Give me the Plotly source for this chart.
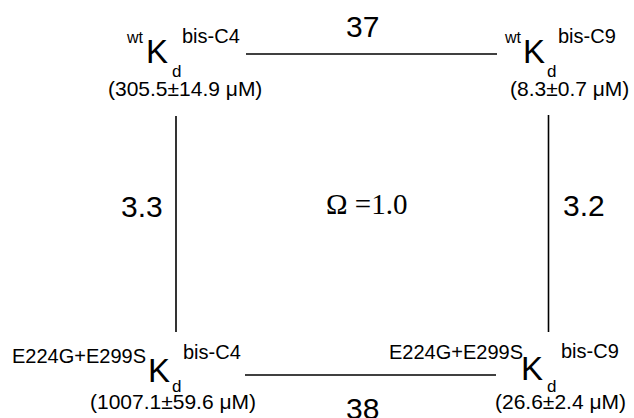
import plotly.graph_objects as go

# ---- data ----
prefixes = ["wt", "wt", "E224G+E299S", "E224G+E299S"]
ligands = ["bis-C4", "bis-C9", "bis-C4", "bis-C9"]
kd_values = ["305.5±14.9", "8.3±0.7", "1007.1±59.6", "26.6±2.4"]
kd_unit = "μM"
ratios = ["37", "38", "3.3", "3.2"]          # top, bottom, left, right
omega = "1.0"

# ---- geometry (pixel layout of the scheme) ----
W, H = 634, 418
SANS = "Liberation Sans, Arial, sans-serif"
SERIF = "Liberation Serif, Times New Roman, serif"

# per node: prefix left/baseline/size, K left/baseline, d left/baseline, lig left/baseline, value center/baseline
nodes = [
    dict(pre=(127, 43, 16), K=(148, 63), d=(173, 77.5), lig=(183, 43), val=(184.5, 96)),
    dict(pre=(505, 43, 16), K=(525, 63), d=(548, 77), lig=(559, 43), val=(569, 96)),
    dict(pre=(13, 363, 20), K=(150, 382), d=(173, 392.5), lig=(184, 359), val=(172.5, 409)),
    dict(pre=(390, 359, 20), K=(523, 380), d=(548, 392), lig=(562, 358), val=(560, 409)),
]
K_SIZE, D_SIZE, LIG_SIZE, VAL_SIZE, NUM_SIZE = 33, 17, 20, 21, 30

edges = [((246, 54), (497, 54)), ((245, 375), (496, 375)),
         ((176, 116), (176, 332)), ((548.5, 115), (548.5, 332))]
ratio_pos = [(362.5, 37), (362.5, 418.5), (141.5, 217), (584, 216)]
omega_pos = (366.5, 214)

fig = go.Figure()
for (x0, y0), (x1, y1) in edges:
    fig.add_trace(go.Scatter(x=[x0, x1], y=[y0, y1], mode="lines",
                             line=dict(color="black", width=1.6),
                             hoverinfo="skip", showlegend=False))

ann = []


def add_text(text, x, baseline, size, anchor="left", family=SANS, off=0.3465):
    y = baseline - off * size
    if anchor == "left":
        x = x - 2 - 0.06 * size
    ann.append(dict(text=text, x=x, y=y, xref="x", yref="y", showarrow=False,
                    xanchor=anchor, yanchor="middle",
                    font=dict(family=family, size=size, color="black")))


for i, nd in enumerate(nodes):
    px, pb, ps = nd["pre"]
    add_text(prefixes[i], px, pb, ps)
    add_text("K", nd["K"][0], nd["K"][1], K_SIZE)
    add_text("d", nd["d"][0], nd["d"][1], D_SIZE)
    add_text(ligands[i], nd["lig"][0], nd["lig"][1], LIG_SIZE)
    add_text("(" + kd_values[i] + " " + kd_unit + ")", nd["val"][0], nd["val"][1],
             VAL_SIZE, anchor="center")

for r, (x, b) in zip(ratios, ratio_pos):
    add_text(r, x, b, NUM_SIZE, anchor="center")

add_text("Ω =" + omega, omega_pos[0], omega_pos[1], 29, anchor="center",
         family=SERIF, off=0.3375)

fig.update_layout(
    width=W, height=H,
    margin=dict(l=0, r=0, t=0, b=0),
    paper_bgcolor="white", plot_bgcolor="white",
    xaxis=dict(range=[0, W], visible=False, fixedrange=True),
    yaxis=dict(range=[H, 0], visible=False, fixedrange=True),
    annotations=ann,
    showlegend=False,
)

fig.write_html(
    "out.html",
    config={"displayModeBar": False},
    post_script="document.body.style.margin='0';document.body.style.overflow='hidden';",
)
